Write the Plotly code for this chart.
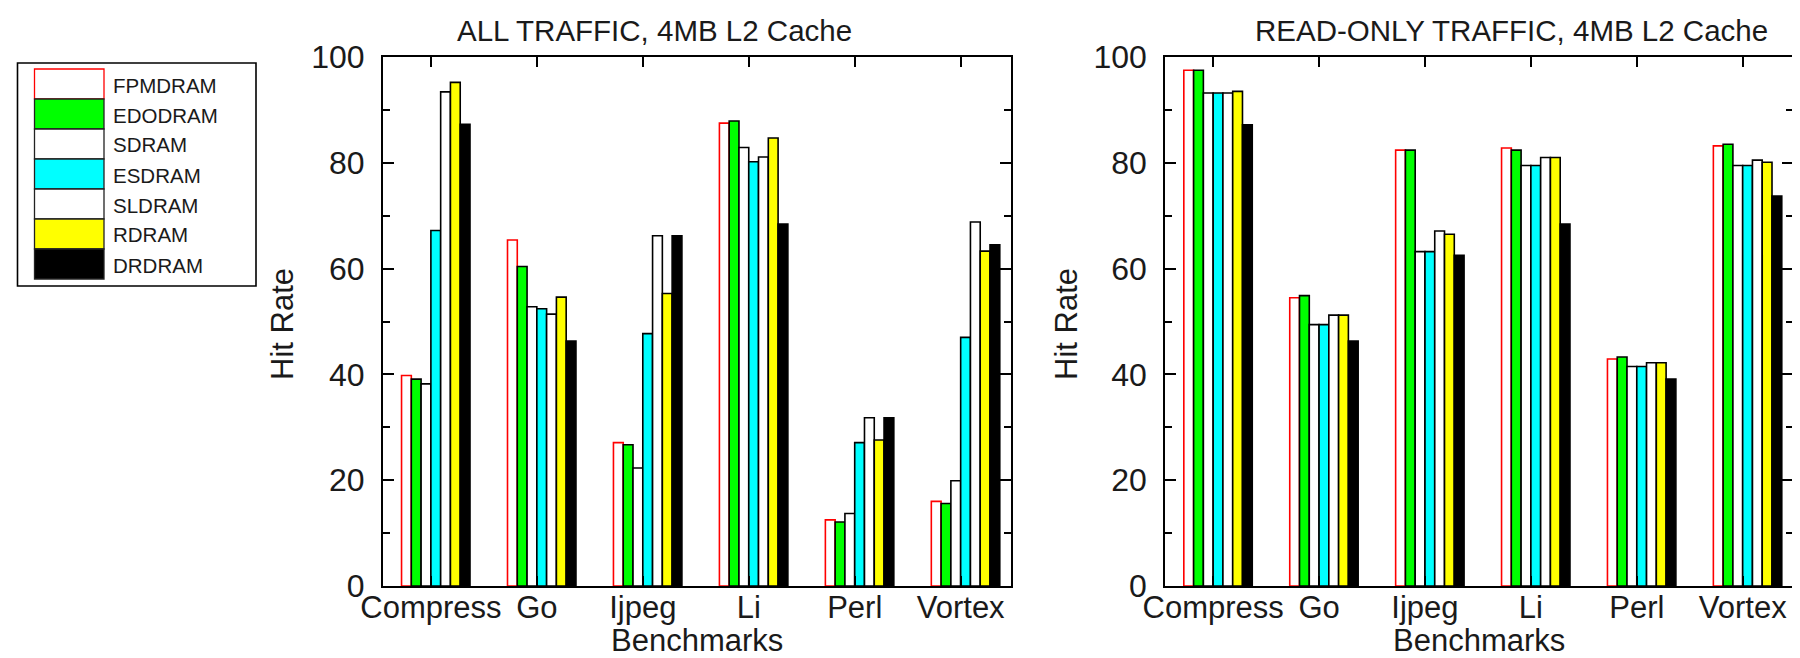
import plotly.graph_objects as go

categories = ["Compress", "Go", "Ijpeg", "Li", "Perl", "Vortex"]
series = ["FPMDRAM", "EDODRAM", "SDRAM", "ESDRAM", "SLDRAM", "RDRAM", "DRDRAM"]

all_fpm = [39.8, 65.4, 27.1, 87.5, 12.5, 16.0]
all_edo = [39.1, 60.4, 26.7, 87.9, 12.1, 15.6]
all_sdram = [38.2, 52.8, 22.3, 82.9, 13.7, 19.9]
all_esdram = [67.2, 52.4, 47.7, 80.2, 27.1, 47.0]
all_sldram = [93.4, 51.4, 66.2, 81.1, 31.8, 68.8]
all_rdram = [95.2, 54.6, 55.3, 84.7, 27.6, 63.3]
all_drdram = [87.3, 46.3, 66.2, 68.4, 31.8, 64.5]

ro_fpm = [97.5, 54.5, 82.4, 82.8, 42.9, 83.2]
ro_edo = [97.5, 54.9, 82.4, 82.4, 43.3, 83.5]
ro_sdram = [93.2, 49.4, 63.2, 79.5, 41.5, 79.5]
ro_esdram = [93.2, 49.4, 63.2, 79.5, 41.5, 79.5]
ro_sldram = [93.2, 51.2, 67.1, 81.0, 42.2, 80.5]
ro_rdram = [93.5, 51.2, 66.5, 81.0, 42.2, 80.1]
ro_drdram = [87.2, 46.3, 62.5, 68.4, 39.1, 73.7]

y_ticks = [0, 20, 40, 60, 80, 100]

all_traffic = [all_fpm, all_edo, all_sdram, all_esdram, all_sldram, all_rdram, all_drdram]
read_only = [ro_fpm, ro_edo, ro_sdram, ro_esdram, ro_sldram, ro_rdram, ro_drdram]

fills = ["#ffffff", "#00ff00", "#ffffff", "#00ffff", "#ffffff", "#ffff00", "#000000"]
lines = ["#ff0000", "#000000", "#000000", "#000000", "#000000", "#000000", "#000000"]

W, H = 1800, 658
FONT = "Liberation Sans, Arial, sans-serif"
TXT = "#1a1a1a"

def px(x):
    return x / W

def py(y):
    return 1 - y / H

bar_w = 0.0923
start = -0.277
xpos = list(range(len(categories)))

fig = go.Figure()
for data, xa, ya in [(all_traffic, "x", "y"), (read_only, "x2", "y2")]:
    for j, name in enumerate(series):
        fig.add_trace(go.Bar(
            x=xpos, y=data[j], name=name, xaxis=xa, yaxis=ya,
            width=bar_w, offset=start + j * bar_w,
            marker=dict(color=fills[j], line=dict(color=lines[j], width=1.6)),
            showlegend=False,
        ))

xr = [-0.452, 5.475]
xcommon = dict(range=xr, tickmode="array", tickvals=xpos, ticktext=categories,
               ticks="inside", ticklen=10, tickwidth=1.6, tickcolor="black",
               showline=True, linecolor="black", linewidth=2, mirror="ticks",
               showgrid=False, zeroline=False, automargin=False,
               tickfont=dict(family=FONT, size=31, color=TXT), ticklabelstandoff=-7)
ycommon = dict(range=[0, 100], tickmode="array", tickvals=y_ticks,
               ticks="inside", ticklen=11, tickwidth=1.6, tickcolor="black",
               minor=dict(dtick=10, ticks="inside", ticklen=7, tickwidth=1.6, tickcolor="black", showgrid=False),
               showline=True, linecolor="black", linewidth=2, mirror="ticks",
               showgrid=False, zeroline=False, automargin=False,
               tickfont=dict(family=FONT, size=32, color=TXT), ticklabelstandoff=10)

ytop, ybot = py(49), py(578)
fig.update_layout(
    width=W, height=H,
    margin=dict(l=0, r=0, t=0, b=0),
    paper_bgcolor="white", plot_bgcolor="white",
    barmode="overlay",
    showlegend=False,
    xaxis=dict(domain=[px(375), px(1003)], anchor="y", **xcommon),
    yaxis=dict(domain=[ybot, ytop], anchor="x", **ycommon),
    xaxis2=dict(domain=[px(1157.3), px(1785)], anchor="y2", **xcommon),
    yaxis2=dict(domain=[ybot, ytop], anchor="x2", **ycommon),
)

ann = []
def text(x, y, s, size=31, angle=0, xanchor="center"):
    ann.append(dict(x=px(x), y=py(y), xref="paper", yref="paper", text=s,
                    showarrow=False, textangle=angle, xanchor=xanchor, yanchor="middle",
                    font=dict(family=FONT, size=size, color=TXT)))

text(646, 22, "ALL TRAFFIC, 4MB L2 Cache", size=29.5)
text(1503, 22, "READ-ONLY TRAFFIC, 4MB L2 Cache", size=29.5)
text(689, 632, "Benchmarks")
text(1471, 632, "Benchmarks")
text(274, 316, "Hit Rate", angle=-90)
text(1058, 316, "Hit Rate", angle=-90)

shapes = []
# legend box
shapes.append(dict(type="rect", xref="paper", yref="paper",
                   x0=px(9.5), x1=px(248), y0=py(278), y1=py(55),
                   line=dict(color="black", width=1.6), fillcolor="white", layer="above"))
sw_top, sw_h = 61, 30
for j, name in enumerate(series):
    y0 = sw_top + j * sw_h
    shapes.append(dict(type="rect", xref="paper", yref="paper",
                       x0=px(26.5), x1=px(96), y0=py(y0 + sw_h), y1=py(y0),
                       line=dict(color=lines[j] if j == 0 else "#222222", width=1.3),
                       fillcolor=fills[j], layer="above"))
    text(103, y0 + sw_h / 2 + 1, name, size=20.5, xanchor="left")

fig.update_layout(annotations=ann, shapes=shapes)
fig.write_html("out.html")
